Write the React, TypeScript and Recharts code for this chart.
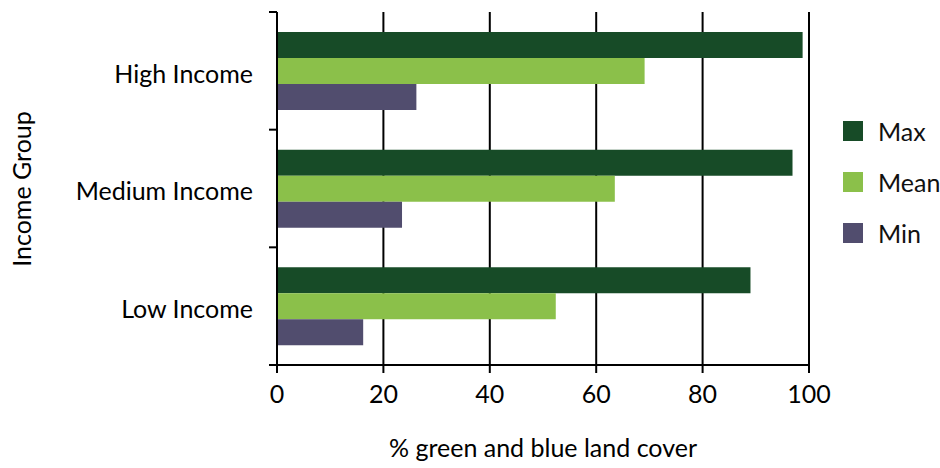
import { BarChart, Bar, XAxis, YAxis, CartesianGrid, Legend } from 'recharts';

const groups = ['High Income', 'Medium Income', 'Low Income'];
const maxCover = [98.8, 96.9, 89.0];
const meanCover = [69.1, 63.5, 52.4];
const minCover = [26.2, 23.5, 16.2];
const xTicks = [0, 20, 40, 60, 80, 100];

const data = groups.map((name, i) => ({
  name,
  Max: maxCover[i],
  Mean: meanCover[i],
  Min: minCover[i],
}));

const font = 'Lato, "Open Sans", sans-serif';

function LegendBox(props: any) {
  const { payload } = props;
  return (
    <div style={{ fontFamily: font, fontSize: 25, color: '#111', whiteSpace: 'nowrap', width: 100 }}>
      {payload.map((p: any) => (
        <div key={p.value} style={{ display: 'flex', alignItems: 'center', height: 51 }}>
          <span
            style={{
              width: 20,
              height: 20,
              flexShrink: 0,
              background: p.color,
              display: 'inline-block',
              marginRight: 15,
            }}
          />
          <span>{p.value}</span>
        </div>
      ))}
    </div>
  );
}

// category label plus the little tick marks at the band edges (ref chart puts them between groups)
function GroupTick(props: any) {
  const { x, y, payload, index, visibleTicksCount } = props;
  const half = payload.offset || 0;
  const x1 = x + 16;
  const x2 = x + 24;
  return (
    <g>
      <line x1={x1} x2={x2} y1={y - half} y2={y - half} stroke="#000" strokeWidth={2} />
      {index === visibleTicksCount - 1 && (
        <line x1={x1} x2={x2} y1={y + half} y2={y + half} stroke="#000" strokeWidth={2} />
      )}
      <text x={x} y={y + 3} dy="0.355em" textAnchor="end" fill="#000" fontSize={25} fontFamily={font}>
        {payload.value}
      </text>
    </g>
  );
}

export default function App() {
  return (
    <div style={{ position: 'absolute', left: 0, top: 0, background: '#fff' }}>
      <BarChart
        width={940}
        height={468}
        data={data}
        layout="vertical"
        margin={{ top: 12, right: 131, bottom: 0, left: 0 }}
        barSize={26}
        barGap={0}
      >
        <CartesianGrid horizontal={false} stroke="#000" strokeWidth={2} />
        <XAxis
          type="number"
          domain={[0, 100]}
          ticks={xTicks}
          height={103}
          axisLine={{ stroke: '#000', strokeWidth: 2 }}
          tickLine={{ stroke: '#000', strokeWidth: 2 }}
          tickSize={8}
          tickMargin={12}
          tick={{ fill: '#000', fontSize: 25, fontFamily: font }}
          label={{
            value: '% green and blue land cover',
            position: 'insideBottom',
            offset: 11,
            fill: '#000',
            fontSize: 25,
            fontFamily: font,
          }}
        />
        <YAxis
          type="category"
          dataKey="name"
          width={277}
          axisLine={{ stroke: '#000', strokeWidth: 2 }}
          tickLine={false}
          tickSize={8}
          tickMargin={16}
          tick={<GroupTick />}
          label={{
            content: () => (
              <text
                x={21}
                y={189}
                transform="rotate(-90 21 189)"
                textAnchor="middle"
                dominantBaseline="central"
                fill="#000"
                fontSize={25}
                fontFamily={font}
              >
                Income Group
              </text>
            ),
          }}
        />
        <Legend
          layout="vertical"
          verticalAlign="middle"
          align="right"
          content={<LegendBox />}
          wrapperStyle={{ left: 843, top: 105, width: 0, height: 0, overflow: 'visible' }}
        />
        <Bar dataKey="Max" fill="#174B27" isAnimationActive={false} />
        <Bar dataKey="Mean" fill="#8BC04A" isAnimationActive={false} />
        <Bar dataKey="Min" fill="#514D6E" isAnimationActive={false} />
      </BarChart>
    </div>
  );
}
